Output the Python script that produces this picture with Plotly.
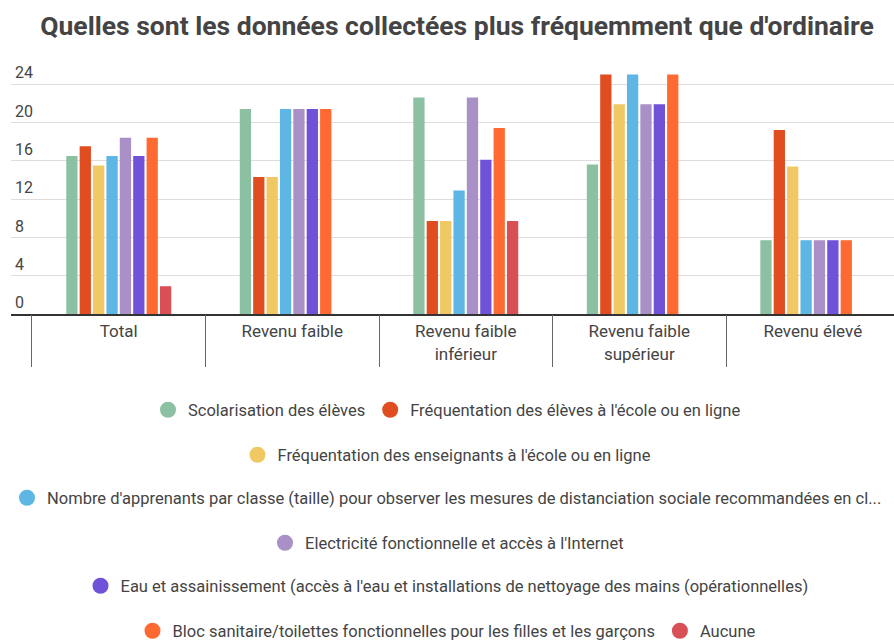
import plotly.graph_objects as go

categories = ["Total", "Revenu faible", "Revenu faible<br>inférieur",
              "Revenu faible<br>supérieur", "Revenu élevé"]

series_names = [
    "Scolarisation des élèves",
    "Fréquentation des élèves à l'école ou en ligne",
    "Fréquentation des enseignants à l'école ou en ligne",
    "Nombre d'apprenants par classe (taille) pour observer les mesures de distanciation sociale recommandées en cl...",
    "Electricité fonctionnelle et accès à l'Internet",
    "Eau et assainissement (accès à l'eau et installations de nettoyage des mains (opérationnelles)",
    "Bloc sanitaire/toilettes fonctionnelles pour les filles et les garçons",
    "Aucune",
]

scolarisation = [16.5, 21.4, 22.6, 15.6, 7.7]
frequentation_eleves = [17.5, 14.3, 9.7, 25.0, 19.2]
frequentation_enseignants = [15.5, 14.3, 9.7, 21.9, 15.4]
nombre_apprenants = [16.5, 21.4, 12.9, 25.0, 7.7]
electricite = [18.4, 21.4, 22.6, 21.9, 7.7]
eau_assainissement = [16.5, 21.4, 16.1, 21.9, 7.7]
bloc_sanitaire = [18.4, 21.4, 19.4, 25.0, 7.7]
aucune = [2.9, None, 9.7, None, None]

series_values = [scolarisation, frequentation_eleves, frequentation_enseignants,
                 nombre_apprenants, electricite, eau_assainissement,
                 bloc_sanitaire, aucune]

colors = ["#8BC0A3", "#E04D20", "#F0C964", "#5DB6E3",
          "#A990C6", "#6F52D8", "#FF6A33", "#D85055"]

y_ticks = [0, 4, 8, 12, 16, 20, 24]

legend_rows = ["legend", "legend", "legend2", "legend3", "legend4",
               "legend5", "legend6", "legend6"]
row_centers_px = [410, 455, 498, 543, 586, 631]

W, H = 894, 641
FONT = "Roboto, Arial, sans-serif"
TXT = "#444444"
TOP, ZERO_Y, PX_PER_UNIT = 58, 314.5, 9.6
X_RANGE = [-0.621, 4.468]
Y_RANGE = [0, (ZERO_Y - TOP) / PX_PER_UNIT]
# category boundaries (separator ticks below the axis)
boundaries = [i - 0.5 for i in range(len(categories) + 1)]

fig = go.Figure()
for name, vals, col in zip(series_names, series_values, colors):
    fig.add_trace(go.Bar(x=categories, y=vals, name=name, marker_color=col,
                         marker_line_width=0, showlegend=False,
                         hoverinfo="skip"))
# legend-only entries (circle symbols); split across the helper axes so
# that both the separator-tick axis and the label axis are drawn
for i, (name, col, lg) in enumerate(zip(series_names, colors, legend_rows)):
    axes = dict(xaxis="x2", yaxis="y") if i < 4 else dict(xaxis="x", yaxis="y2")
    fig.add_trace(go.Scatter(x=[None], y=[None], mode="markers", name=name,
                             marker=dict(symbol="circle", size=16, color=col),
                             legend=lg, showlegend=True, **axes))

legend_common = dict(orientation="h", xref="container", yref="container",
                     x=0.5, xanchor="center", yanchor="middle",
                     font=dict(family=FONT, size=16.5, color=TXT),
                     bgcolor="rgba(0,0,0,0)", itemsizing="trace")
legend_layout = {}
for i, py in enumerate(row_centers_px):
    key = "legend" if i == 0 else f"legend{i+1}"
    legend_layout[key] = dict(legend_common, y=1 - py / H)

fig.update_layout(
    width=W, height=H,
    margin=dict(l=11, r=0, t=TOP, b=H - ZERO_Y),
    paper_bgcolor="white", plot_bgcolor="white",
    barmode="group", bargap=0.383, bargroupgap=0.157,
    title=dict(text="Quelles sont les données collectées plus fréquemment que d'ordinaire",
               font=dict(family=FONT, size=26.5, color=TXT, weight="bold"),
               xref="container", x=457 / W, xanchor="center",
               yref="container", y=1 - 26 / H, yanchor="middle"),
    font=dict(family=FONT, color=TXT),
    xaxis=dict(range=X_RANGE, showgrid=False, zeroline=False,
               showline=True, linecolor="#333333", linewidth=2,
               ticks="", ticklabelstandoff=1, automargin=False,
               tickfont=dict(family=FONT, size=17, color=TXT),
               fixedrange=True),
    xaxis2=dict(overlaying="x", side="bottom", anchor="y", type="linear",
                range=X_RANGE, tickvals=boundaries, showticklabels=False,
                ticks="outside", ticklen=52, tickcolor="#666666", tickwidth=1,
                showgrid=False, zeroline=False, showline=False,
                automargin=False, fixedrange=True),
    yaxis=dict(range=Y_RANGE, tickvals=y_ticks, showticklabels=False,
               showgrid=True, gridcolor="#dddddd", gridwidth=1,
               zeroline=False, showline=False, automargin=False,
               fixedrange=True),
    yaxis2=dict(overlaying="y", side="left", anchor="free", position=0,
                range=Y_RANGE, tickvals=y_ticks,
                ticktext=[str(v) for v in y_ticks],
                showgrid=False, zeroline=False, showline=False,
                automargin=False, ticklabelposition="inside top",
                tickfont=dict(family=FONT, size=16, color=TXT),
                fixedrange=True),
    **legend_layout,
)

fig.write_html("out.html", config={"displayModeBar": False},
               post_script="document.body.style.margin='0';document.body.style.padding='0';")
